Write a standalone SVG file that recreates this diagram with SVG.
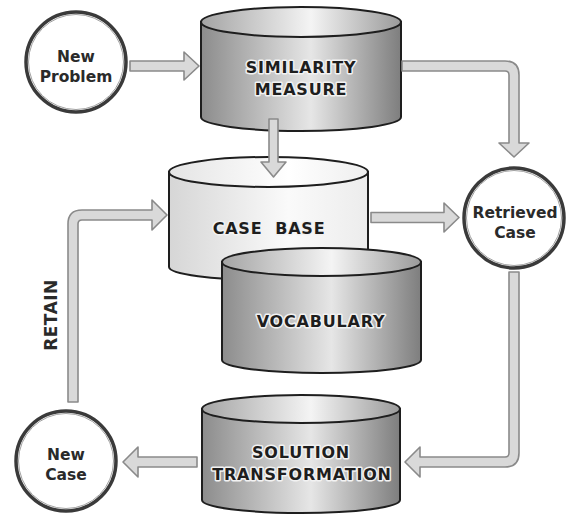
<svg xmlns="http://www.w3.org/2000/svg" width="568" height="515" viewBox="0 0 568 515">
<defs>
<linearGradient id="gSide" x1="0" y1="0" x2="1" y2="0">
<stop offset="0" stop-color="#8c8c8c"/><stop offset="0.55" stop-color="#e6e6e6"/><stop offset="1" stop-color="#7e7e7e"/>
</linearGradient>
<linearGradient id="gTop" x1="0" y1="0" x2="1" y2="0">
<stop offset="0" stop-color="#a4a4a4"/><stop offset="0.55" stop-color="#f4f4f4"/><stop offset="1" stop-color="#9a9a9a"/>
</linearGradient>
<linearGradient id="gSideL" x1="0" y1="0" x2="1" y2="0">
<stop offset="0" stop-color="#d6d6d6"/><stop offset="0.6" stop-color="#fafafa"/><stop offset="1" stop-color="#ececec"/>
</linearGradient>
<linearGradient id="gTopL" x1="0" y1="0" x2="1" y2="0">
<stop offset="0" stop-color="#e4e4e4"/><stop offset="0.6" stop-color="#ffffff"/><stop offset="1" stop-color="#eeeeee"/>
</linearGradient>
<style>
.cyl{stroke:#1e1e1e;stroke-width:2;}
.side{fill:url(#gSide);}
.top{fill:url(#gTop);}
.sideL{fill:url(#gSideL);}
.topL{fill:url(#gTopL);}
.lbl{font-family:"DejaVu Sans",Verdana,sans-serif;font-weight:bold;font-size:16px;fill:#1e1e1e;text-anchor:middle;letter-spacing:0.8px;stroke:#f2f2f2;stroke-width:3px;paint-order:stroke;stroke-linejoin:round;}
.ctxt{font-family:"DejaVu Sans",Verdana,sans-serif;font-weight:bold;font-size:15.5px;fill:#2a2a2a;text-anchor:middle;}
.circ{fill:#fff;stroke:#3a3a3a;stroke-width:3.5;}
.circi{fill:none;stroke:#a0a0a0;stroke-width:1;}
.arr{fill:#d9d9d9;stroke:#8a8a8a;stroke-width:1.6;stroke-linejoin:round;}
</style>
</defs>
<rect width="568" height="515" fill="#fff"/>

<g id="similarity-measure">
<path class="cyl side" d="M201,22 V117 A100,14 0 0 0 401,117 V22 Z"/>
<ellipse class="cyl top" cx="301" cy="22" rx="100" ry="15"/>
<text class="lbl" x="301" y="73">SIMILARITY</text>
<text class="lbl" x="301" y="95">MEASURE</text>
</g>

<g id="case-base">
<path class="cyl sideL" d="M169,172 V267 A99.5,13 0 0 0 368,267 V172 Z"/>
<ellipse class="cyl topL" cx="268.5" cy="172" rx="99.5" ry="15"/>
<text class="lbl" x="269" y="234" xml:space="preserve">CASE  BASE</text>
</g>

<g id="vocabulary">
<path class="cyl side" d="M222,262 V360 A99.5,13 0 0 0 421,360 V262 Z"/>
<ellipse class="cyl top" cx="321.5" cy="262" rx="99.5" ry="14"/>
<text class="lbl" x="321" y="327">VOCABULARY</text>
</g>

<g id="solution-transformation">
<path class="cyl side" d="M202,409 V500 A99,13 0 0 0 400,500 V409 Z"/>
<ellipse class="cyl top" cx="301" cy="409" rx="99" ry="14"/>
<text class="lbl" x="301" y="458">SOLUTION</text>
<text class="lbl" x="302" y="480">TRANSFORMATION</text>
</g>

<g id="new-problem">
<circle class="circ" cx="76" cy="62" r="50"/>
<circle class="circi" cx="76" cy="62" r="47.5"/>
<text class="ctxt" x="76" y="62">New</text>
<text class="ctxt" x="76" y="82">Problem</text>
</g>

<g id="retrieved-case">
<circle class="circ" cx="514" cy="218" r="50"/>
<circle class="circi" cx="514" cy="218" r="47.5"/>
<text class="ctxt" x="515" y="218">Retrieved</text>
<text class="ctxt" x="515" y="238">Case</text>
</g>

<g id="new-case">
<circle class="circ" cx="66" cy="461" r="50"/>
<circle class="circi" cx="66" cy="461" r="47.5"/>
<text class="ctxt" x="66" y="460">New</text>
<text class="ctxt" x="66" y="480">Case</text>
</g>

<g id="connectors">
<path class="arr" d="M130,61 H184 V52 L199,66 L184,80 V71 H130 Z"/>
<path class="arr" d="M269,119 V162 H261 L273.5,177 L286,162 H278 V119 Z"/>
<path class="arr" d="M402,61 H505 Q519,61 519,75 V143 H529 L514,157 L499,143 H509 V75 Q509,71 505,71 H402 Z"/>
<path class="arr" d="M371,212.5 H444 V203 L459,217.5 L444,232 V222.5 H371 Z"/>
<path class="arr" d="M509,272 V453 Q509,457 505,457 H420 V447 L405,462 L420,477 V467 H505 Q519,467 519,453 V272 Z"/>
<path class="arr" d="M197,457 H138 V447 L123,462 L138,477 V467 H197 Z"/>
<path class="arr" d="M68,402 V224 Q68,210 82,210 H152 V200 L167,215 L152,230 V220 H82 Q78,220 78,224 V402 Z"/>
<text class="ctxt" font-size="17" transform="translate(57,315) rotate(-90)" style="font-size:17px;letter-spacing:0.5px">RETAIN</text>
</g>
</svg>
